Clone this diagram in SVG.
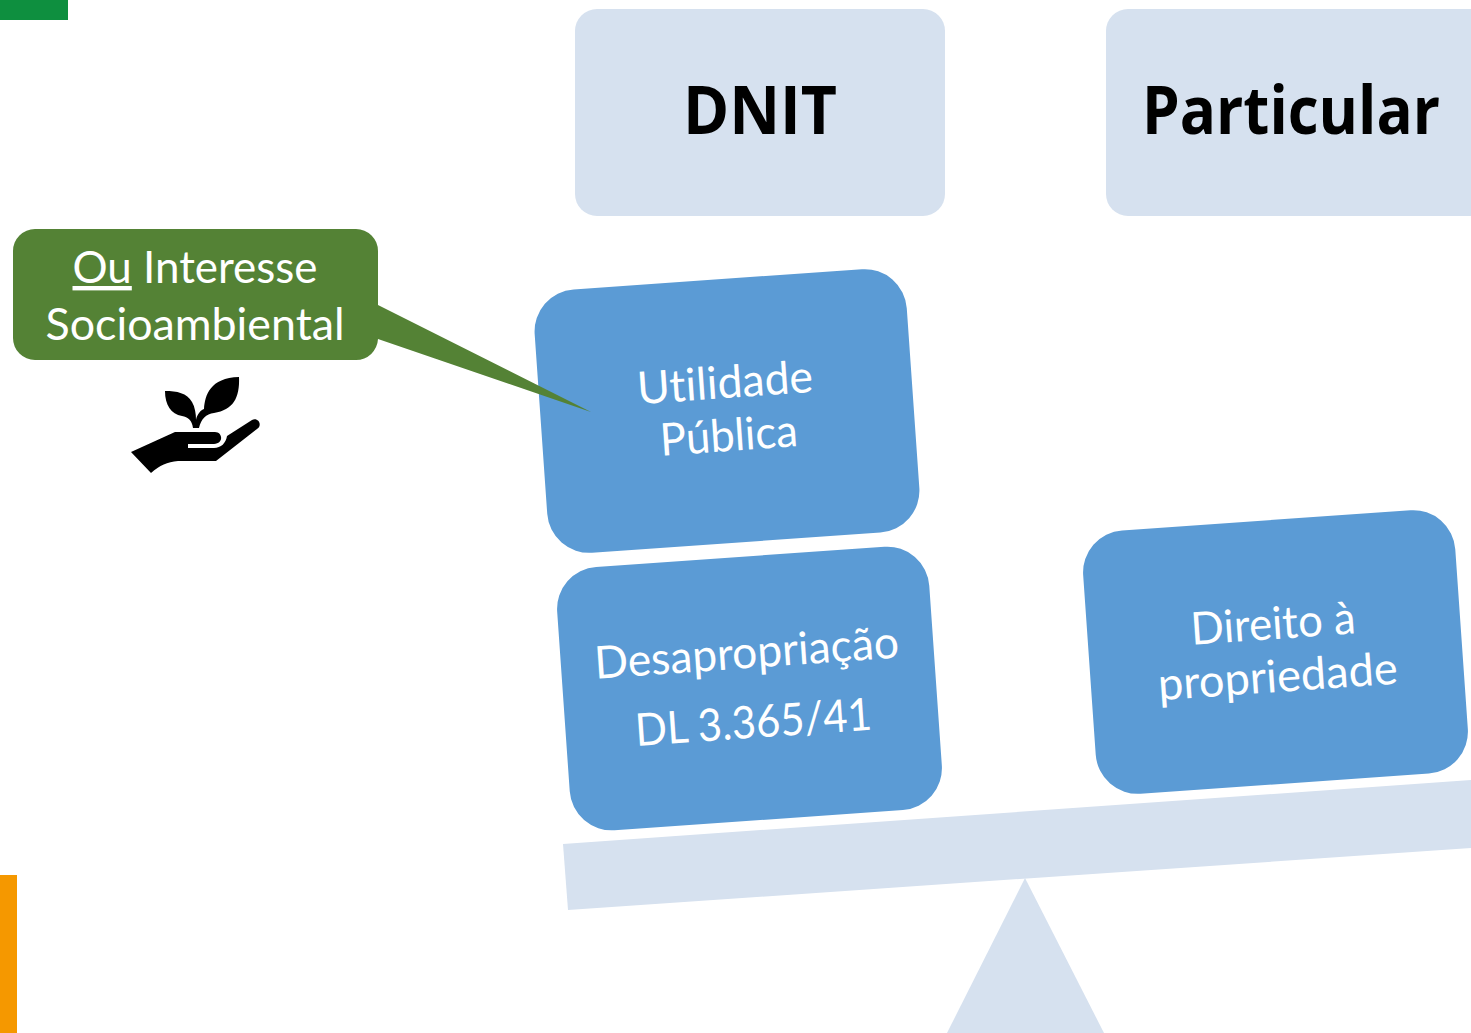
<svg xmlns="http://www.w3.org/2000/svg" width="1471" height="1033" viewBox="0 0 1471 1033">
<style>
text{font-family:"Lato","Noto Sans","Liberation Sans",sans-serif;text-anchor:middle;font-variant-ligatures:none}
.head{fill:#d6e1ef}
.blue{fill:#5b9bd5}
.t{fill:#fff;font-size:45px}
.h{fill:#000;font-size:66px;font-weight:700;font-family:"Open Sans","Noto Sans",sans-serif}
.g{fill:#fff;font-size:44px}
</style>
<rect width="1471" height="1033" fill="#fff"/>
<rect x="0" y="0" width="68" height="20" fill="#0e8f3f"/>
<rect x="0" y="875" width="17" height="158" fill="#f59800"/>
<g id="fulcrum">
<polygon class="head" points="563,844 1471,780 1471,848 568,910"/>
<polygon class="head" points="1025,878 947,1033 1104,1033"/>
</g>
<g id="dnit"><rect class="head" x="575" y="9" width="370" height="207" rx="22"/><text class="h" x="760" y="134" textLength="154" lengthAdjust="spacingAndGlyphs">DNIT</text></g>
<g id="particular"><rect class="head" x="1106" y="9" width="385" height="207" rx="22"/><text class="h" x="1291" y="134" textLength="298" lengthAdjust="spacingAndGlyphs">Particular</text></g>
<g id="utilidade" transform="rotate(-4 727 411)"><rect class="blue" x="540.500" y="279" width="373" height="264" rx="42"/>
<text class="t" x="727" y="398" textLength="176" lengthAdjust="spacingAndGlyphs">Utilidade</text><text class="t" x="727" y="451" textLength="138" lengthAdjust="spacingAndGlyphs">Pública</text></g>
<g id="desapropriacao" transform="rotate(-4 749.500 688.500)"><rect class="blue" x="563" y="556.500" width="373" height="264" rx="42"/>
<text class="t" x="749" y="668" textLength="305" lengthAdjust="spacingAndGlyphs">Desapropriação</text><text class="t" x="751" y="738" textLength="237" lengthAdjust="spacingAndGlyphs">DL 3.365/41</text></g>
<g id="direito" transform="rotate(-4 1275.500 652)"><rect class="blue" x="1089" y="520" width="373" height="264" rx="42"/>
<text class="t" x="1275" y="639" textLength="165" lengthAdjust="spacingAndGlyphs">Direito à</text><text class="t" x="1276" y="692" textLength="240" lengthAdjust="spacingAndGlyphs">propriedade</text></g>
<g id="callout">
<path fill="#548235" d="M35,229H356a22,22 0 0 1 22,22V305L591,412L378,339a22,22 0 0 1 -22,21H35a22,22 0 0 1 -22,-22V251a22,22 0 0 1 22,-22Z"/>
<text class="g" x="195" y="283" textLength="245" lengthAdjust="spacingAndGlyphs"><tspan text-decoration="underline">Ou</tspan> Interesse</text>
<text class="g" x="195" y="340" textLength="299" lengthAdjust="spacingAndGlyphs">Socioambiental</text>
</g>
<g id="plant-hand" fill="#000">
<path d="M193,428C192,420 188,417 182,416C171,414 165,405 165,391C177,391 187,393 192,402C195,407 196,414 196,420C197,414 201,410 204,409C205,395 210,378 239,377C240,398 233,410 214,413C206,414 201,419 199,428Z"/>
<path d="M131,452L175,432H214C223,431 224,444 214,444H188V448H214C221,448 226,443 227,436L252,420C258,417 263,425 257,429L216,461H178C167,462 160,465 151,473Z"/>
</g>
</svg>
